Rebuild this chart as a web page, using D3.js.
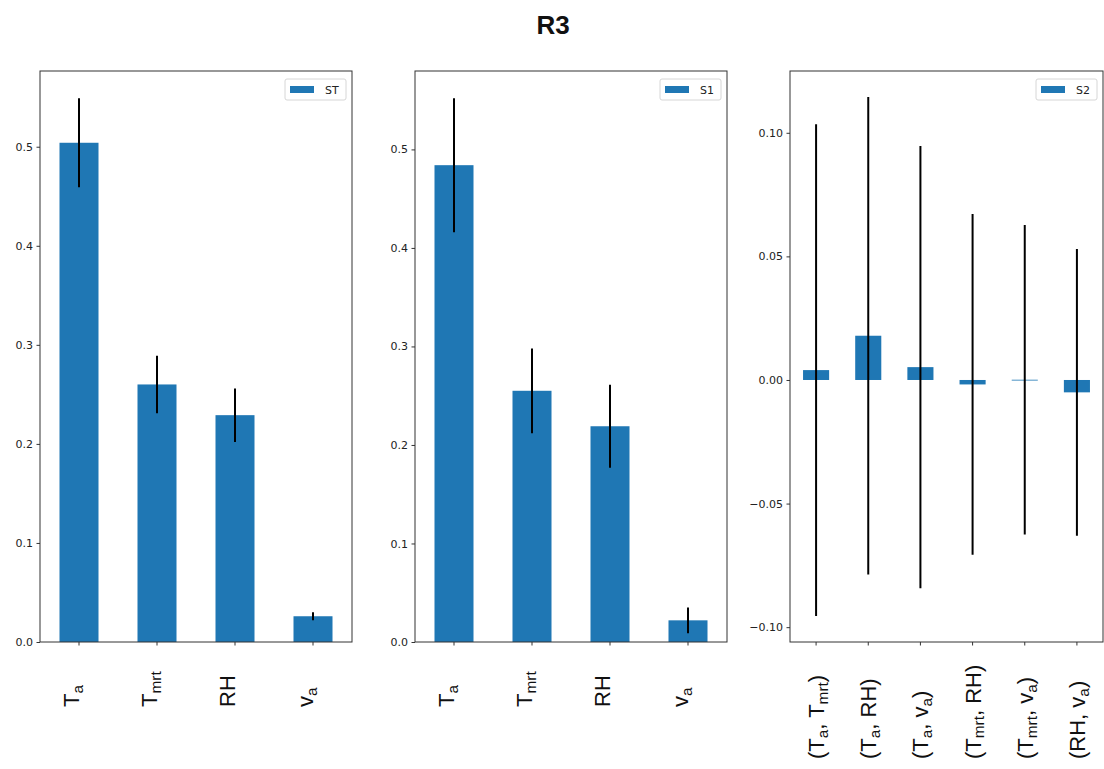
<!DOCTYPE html>
<html>
<head>
<meta charset="utf-8">
<script src="https://cdn.jsdelivr.net/npm/d3@7"></script>
<style>
  body { margin: 0; background: #fff; }
  svg { display: block; }
  text { font-family: "Liberation Sans", Arial, sans-serif; }
</style>
</head>
<body>
<svg id="chart" width="1104" height="769"></svg>
<script>
// Sobol sensitivity indices for case R3
const firstOrderParams = ["T_a", "T_{mrt}", "RH", "v_a"];
const totalIndex = [0.504, 0.260, 0.229, 0.026];
const totalConf  = [0.045, 0.029, 0.027, 0.004];
const firstIndex = [0.484, 0.255, 0.219, 0.022];
const firstConf  = [0.068, 0.043, 0.042, 0.013];

const pairParams  = ["(T_a, T_{mrt})", "(T_a, RH)", "(T_a, v_a)", "(T_{mrt}, RH)", "(T_{mrt}, v_a)", "(RH, v_a)"];
const secondIndex = [0.0040, 0.0179, 0.0052, -0.0018, 0.0001, -0.0050];
const secondConf  = [0.0995, 0.0966, 0.0895, 0.0689, 0.0626, 0.0580];

const ticksFirst  = [0.0, 0.1, 0.2, 0.3, 0.4, 0.5];
const ticksSecond = [-0.10, -0.05, 0.00, 0.05, 0.10];

const seriesNames = ["ST", "S1", "S2"];

const svg = d3.select("#chart");
const barColor = "#1f77b4";
const axisColor = "#333";

svg.append("text")
  .attr("x", 553).attr("y", 34)
  .attr("text-anchor", "middle")
  .attr("font-size", 26).attr("font-weight", "bold")
  .attr("fill", "#111")
  .text("R3");

// Write "X_a" / "X_{abc}" strings as text with subscript tspans
function writeLabel(sel, str, size) {
  const re = /_\{([^}]*)\}|_(\w)/g;
  const parts = [];
  let last = 0, m;
  while ((m = re.exec(str))) {
    if (m.index > last) parts.push({ t: str.slice(last, m.index), sub: false });
    parts.push({ t: m[1] || m[2], sub: true });
    last = re.lastIndex;
  }
  if (last < str.length) parts.push({ t: str.slice(last), sub: false });
  const shift = size * 0.17;
  let down = false;
  parts.forEach(p => {
    const ts = sel.append("tspan").text(p.t);
    if (p.sub) {
      ts.attr("font-size", size * 0.7);
      if (!down) { ts.attr("dy", shift); down = true; }
    } else {
      if (down) { ts.attr("dy", -shift); down = false; }
    }
  });
}

function panel(opts) {
  const { left, right, top, bottom, cats, vals, errs, ticks, fmt, name, labelBase, labelShift, lowerFromData } = opts;
  const g = svg.append("g");

  let hi = d3.max(vals.map((v, i) => v + errs[i]));
  let lo = lowerFromData ? d3.min(vals.map((v, i) => v - errs[i])) : 0;
  const pad = (hi - lo) * 0.05;
  hi += pad;
  if (lowerFromData) lo -= pad;

  const x = d3.scaleBand().domain(cats).range([left, right]).paddingInner(0.5).paddingOuter(0.25);
  const y = d3.scaleLinear().domain([lo, hi]).range([bottom, top]);

  // bars
  g.selectAll("rect.bar").data(vals).join("rect")
    .attr("class", "bar")
    .attr("x", (d, i) => x(cats[i]))
    .attr("width", x.bandwidth())
    .attr("y", d => Math.min(y(d), y(0)))
    .attr("height", d => Math.max(Math.abs(y(d) - y(0)), 0.8))
    .attr("fill", barColor);

  // error bars
  g.selectAll("line.err").data(vals).join("line")
    .attr("class", "err")
    .attr("x1", (d, i) => x(cats[i]) + x.bandwidth() / 2)
    .attr("x2", (d, i) => x(cats[i]) + x.bandwidth() / 2)
    .attr("y1", (d, i) => y(d + errs[i]))
    .attr("y2", (d, i) => y(d - errs[i]))
    .attr("stroke", "#000").attr("stroke-width", 2);

  // y axis
  const yAxis = g.append("g").attr("transform", `translate(${left},0)`)
    .call(d3.axisLeft(y).tickValues(ticks).tickFormat(d3.format(fmt)).tickSizeOuter(0).tickSize(3.5).tickPadding(3.5));
  yAxis.select(".domain").remove();
  yAxis.selectAll("line").attr("stroke", axisColor);
  yAxis.selectAll("text").attr("font-size", 11).attr("fill", "#222")
    .style("font-family", "'DejaVu Sans', sans-serif");

  // x axis ticks
  const xAxis = g.append("g").attr("transform", `translate(0,${bottom})`)
    .call(d3.axisBottom(x).tickSize(3.5).tickFormat(""));
  xAxis.select(".domain").remove();
  xAxis.selectAll("line").attr("stroke", axisColor);

  // rotated category labels
  cats.forEach(c => {
    const cx = x(c) + x.bandwidth() / 2 + labelShift;
    const t = g.append("text")
      .attr("transform", `translate(${cx},${labelBase}) rotate(-90)`)
      .attr("font-size", 22).attr("fill", "#111");
    writeLabel(t, c, 22);
  });

  // frame
  g.append("rect")
    .attr("x", left).attr("y", top)
    .attr("width", right - left).attr("height", bottom - top)
    .attr("fill", "none").attr("stroke", axisColor).attr("stroke-width", 1);

  // legend
  const lg = g.append("g");
  lg.append("rect")
    .attr("x", right - 67).attr("y", top + 8)
    .attr("width", 61).attr("height", 21).attr("rx", 2)
    .attr("fill", "#fff").attr("stroke", "#d6d6d6");
  lg.append("rect")
    .attr("x", right - 62).attr("y", top + 15)
    .attr("width", 24).attr("height", 7)
    .attr("fill", barColor);
  lg.append("text")
    .attr("x", right - 27).attr("y", top + 22.5)
    .attr("font-size", 11).attr("fill", "#222")
    .style("font-family", "'DejaVu Sans', sans-serif")
    .text(name);
}

panel({ left: 40, right: 352, top: 71, bottom: 642, cats: firstOrderParams, vals: totalIndex, errs: totalConf,
        ticks: ticksFirst, fmt: ".1f", name: seriesNames[0], labelBase: 707, labelShift: 0, lowerFromData: false });
panel({ left: 415, right: 727, top: 71, bottom: 642, cats: firstOrderParams, vals: firstIndex, errs: firstConf,
        ticks: ticksFirst, fmt: ".1f", name: seriesNames[1], labelBase: 707, labelShift: 0, lowerFromData: false });
panel({ left: 790, right: 1103, top: 71, bottom: 642, cats: pairParams, vals: secondIndex, errs: secondConf,
        ticks: ticksSecond, fmt: ".2f", name: seriesNames[2], labelBase: 759, labelShift: 8, lowerFromData: true });
</script>
</body>
</html>
